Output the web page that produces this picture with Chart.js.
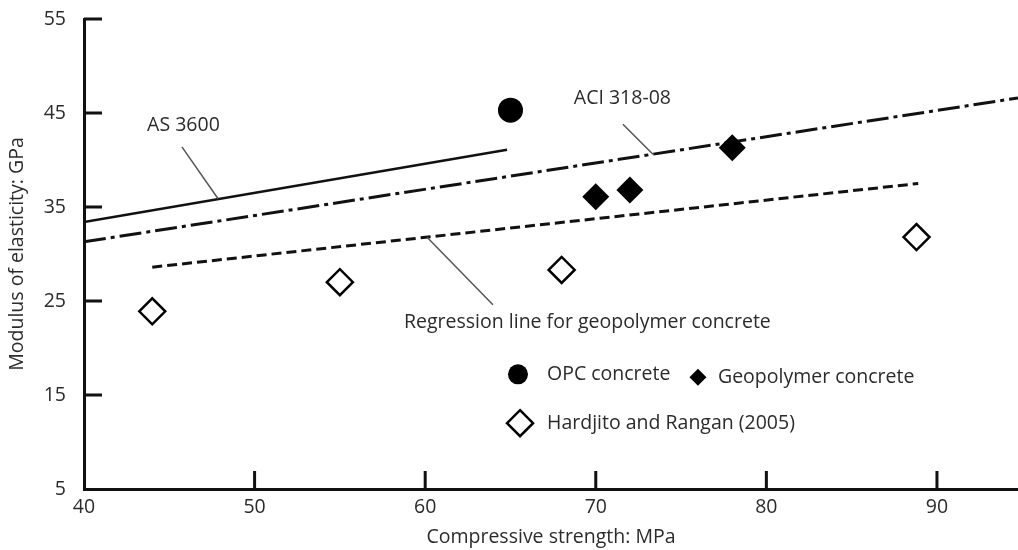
<!DOCTYPE html>
<html>
<head>
<meta charset="utf-8">
<script src="https://cdn.jsdelivr.net/npm/chart.js@4.4.0/dist/chart.umd.min.js"></script>
<style>
    body { margin: 0; background: #fff; }
    #wrap { width: 1018px; height: 550px; position: relative; }
</style>
</head>
<body>
<div id="wrap"><canvas id="modulus-chart"></canvas></div>
<script>
// Test points (compressive strength MPa, modulus GPa)
const opcStrength = [65];
const opcModulus = [45.3];
const geoStrength = [70, 72, 78];
const geoModulus = [36.1, 36.8, 41.3];
const hardjitoStrength = [44, 55, 68, 88.8];
const hardjitoModulus = [23.9, 27.0, 28.3, 31.8];

// Code / regression lines, end points
const as3600Strength = [40, 64.8];
const as3600Modulus = [33.4, 41.1];
const aciStrength = [40, 94.75];
const aciModulus = [31.3, 46.6];
const regressionStrength = [44, 88.9];
const regressionModulus = [28.6, 37.5];

const xTickValues = [40, 50, 60, 70, 80, 90];
const yTickValues = [5, 15, 25, 35, 45, 55];

const toPoints = (xs, ys) => xs.map((x, i) => ({ x: x, y: ys[i] }));

const FONT = '"Open Sans", "Noto Sans", sans-serif';
const FONT_SIZE = 19.5;
const TEXT = '#2b2b2b';

// labels with leader lines, in data units
const callouts = [
    { text: 'AS 3600', at: [45.83, 43.7], align: 'center', from: [45.74, 41.4], to: [47.85, 35.9] },
    { text: 'ACI 318-08', at: [71.56, 46.5], align: 'center', from: [71.59, 43.8], to: [73.35, 40.62] },
    { text: 'Regression line for geopolymer concrete', at: [58.76, 22.77], align: 'left', from: [60.11, 31.79], to: [63.97, 24.6] },
];

const legendItems = [
    { text: 'OPC concrete', marker: 'circle', at: [65.44, 17.2], gap: 29 },
    { text: 'Geopolymer concrete', marker: 'diamond', at: [75.99, 16.9], gap: 20 },
    { text: 'Hardjito and Rangan (2005)', marker: 'openDiamond', at: [65.56, 12.0], gap: 27 },
];

const overlay = {
    id: 'overlay',
    afterDraw(chart) {
        const ctx = chart.ctx;
        const xs = chart.scales.x, ys = chart.scales.y;
        const area = chart.chartArea;
        ctx.save();

        // inward tick marks
        ctx.strokeStyle = '#111';
        ctx.lineWidth = 3;
        ctx.beginPath();
        xTickValues.slice(1).forEach(v => {
            const px = xs.getPixelForValue(v);
            ctx.moveTo(px, area.bottom);
            ctx.lineTo(px, area.bottom - 18);
        });
        yTickValues.slice(1).forEach(v => {
            const py = ys.getPixelForValue(v);
            ctx.moveTo(area.left, py);
            ctx.lineTo(area.left + 18, py);
        });
        ctx.stroke();

        // callouts
        ctx.font = FONT_SIZE + 'px ' + FONT;
        ctx.textBaseline = 'middle';
        callouts.forEach(c => {
            ctx.strokeStyle = '#555';
            ctx.lineWidth = 1.5;
            ctx.beginPath();
            ctx.moveTo(xs.getPixelForValue(c.from[0]), ys.getPixelForValue(c.from[1]));
            ctx.lineTo(xs.getPixelForValue(c.to[0]), ys.getPixelForValue(c.to[1]));
            ctx.stroke();
            ctx.fillStyle = TEXT;
            ctx.textAlign = c.align;
            ctx.fillText(c.text, xs.getPixelForValue(c.at[0]), ys.getPixelForValue(c.at[1]));
        });

        // legend
        legendItems.forEach(item => {
            const px = xs.getPixelForValue(item.at[0]);
            const py = ys.getPixelForValue(item.at[1]);
            ctx.fillStyle = '#000';
            ctx.strokeStyle = '#000';
            ctx.beginPath();
            if (item.marker === 'circle') {
                ctx.arc(px, py, 10, 0, Math.PI * 2);
                ctx.fill();
            } else if (item.marker === 'diamond') {
                const r = 8.5;
                ctx.moveTo(px, py - r); ctx.lineTo(px + r, py);
                ctx.lineTo(px, py + r); ctx.lineTo(px - r, py);
                ctx.closePath();
                ctx.fill();
            } else {
                const r = 13;
                ctx.lineWidth = 2.5;
                ctx.moveTo(px, py - r); ctx.lineTo(px + r, py);
                ctx.lineTo(px, py + r); ctx.lineTo(px - r, py);
                ctx.closePath();
                ctx.stroke();
            }
            ctx.fillStyle = TEXT;
            ctx.textAlign = 'left';
            ctx.fillText(item.text, px + item.gap, py);
        });
        ctx.restore();
    }
};

new Chart(document.getElementById('modulus-chart'), {
    type: 'scatter',
    data: {
        datasets: [
            {
                label: 'OPC concrete',
                data: toPoints(opcStrength, opcModulus),
                pointStyle: 'circle',
                pointRadius: 12.5,
                pointBorderWidth: 0,
                backgroundColor: '#000',
                order: 0,
            },
            {
                label: 'Geopolymer concrete',
                data: toPoints(geoStrength, geoModulus),
                pointStyle: 'rectRot',
                pointRadius: 13.5,
                pointBorderWidth: 0,
                backgroundColor: '#000',
                order: 0,
            },
            {
                label: 'Hardjito and Rangan (2005)',
                data: toPoints(hardjitoStrength, hardjitoModulus),
                pointStyle: 'rectRot',
                pointRadius: 13,
                pointBorderWidth: 2.5,
                borderColor: '#000',
                backgroundColor: '#fff',
                order: 0,
            },
            {
                label: 'AS 3600',
                data: toPoints(as3600Strength, as3600Modulus),
                showLine: true,
                pointRadius: 0,
                borderColor: '#111',
                borderWidth: 2.5,
                order: 1,
            },
            {
                label: 'ACI 318-08',
                data: toPoints(aciStrength, aciModulus),
                showLine: true,
                pointRadius: 0,
                borderColor: '#111',
                borderWidth: 3,
                borderDash: [22, 5, 4, 5],
                order: 1,
            },
            {
                label: 'Regression line',
                data: toPoints(regressionStrength, regressionModulus),
                showLine: true,
                pointRadius: 0,
                borderColor: '#111',
                borderWidth: 3,
                borderDash: [10, 5],
                order: 1,
            },
        ]
    },
    options: {
        responsive: true,
        maintainAspectRatio: false,
        animation: false,
        layout: { autoPadding: false, padding: { top: 19, right: 0, left: 0, bottom: 0 } },
        plugins: {
            legend: { display: false },
            tooltip: { enabled: false },
        },
        scales: {
            x: {
                type: 'linear',
                min: 40,
                max: 94.75,
                afterBuildTicks: s => { s.ticks = xTickValues.map(v => ({ value: v })); },
                afterFit: s => { s.height = 61; s.paddingLeft = 0; s.paddingRight = 0; },
                grid: { display: false, drawTicks: false },
                border: { display: true, color: '#111', width: 3 },
                ticks: { color: TEXT, padding: 7, font: { family: FONT, size: FONT_SIZE } },
                title: {
                    display: true,
                    text: 'Compressive strength: MPa',
                    color: TEXT,
                    padding: { top: 0, bottom: 1 },
                    font: { family: FONT, size: FONT_SIZE },
                },
            },
            y: {
                type: 'linear',
                min: 5,
                max: 55,
                afterBuildTicks: s => { s.ticks = yTickValues.map(v => ({ value: v })); },
                afterFit: s => { s.width = 84; s.paddingTop = 0; s.paddingBottom = 0; },
                grid: { display: false, drawTicks: false },
                border: { display: true, color: '#111', width: 3 },
                ticks: { color: TEXT, padding: 18, font: { family: FONT, size: FONT_SIZE } },
                title: {
                    display: true,
                    text: 'Modulus of elasticity: GPa',
                    color: TEXT,
                    padding: { top: 6, bottom: 0 },
                    font: { family: FONT, size: FONT_SIZE },
                },
            },
        },
    },
    plugins: [overlay],
});
</script>
</body>
</html>
